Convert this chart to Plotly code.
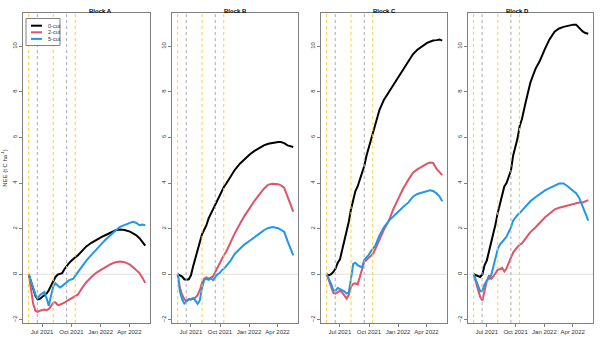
import plotly.graph_objects as go

# sampling dates shared by all series
dates = [
    "2021-05-20", "2021-05-27", "2021-06-03", "2021-06-10", "2021-06-17", "2021-06-24",
    "2021-07-01", "2021-07-08", "2021-07-15", "2021-07-22", "2021-07-29", "2021-08-05",
    "2021-08-12", "2021-08-19", "2021-08-26", "2021-09-02", "2021-09-09", "2021-09-16",
    "2021-09-23", "2021-09-30", "2021-10-07", "2021-10-14", "2021-10-21", "2021-11-03",
    "2021-11-17", "2021-12-03", "2021-12-17", "2022-01-03", "2022-01-17", "2022-02-03",
    "2022-02-17", "2022-03-03", "2022-03-17", "2022-04-03", "2022-04-12", "2022-04-22",
    "2022-05-03", "2022-05-12", "2022-05-21",
]

# management events (dashed vertical lines)
gold_dates = ["2021-05-20", "2021-08-05", "2021-10-13"]
grey_dates = ["2021-06-16", "2021-09-16"]

# cumulative NEE (t C ha-1), Block A
a_0cut = [0, -0.35, -0.7, -0.95, -1.1, -1.08, -1.0, -0.92, -0.85, -0.7, -0.5, -0.3, -0.12,
          -0.02, 0.0, 0.05, 0.22, 0.38, 0.48, 0.58, 0.68, 0.75, 0.82, 1.0, 1.22, 1.38, 1.5,
          1.63, 1.72, 1.85, 1.93, 1.96, 1.94, 1.87, 1.8, 1.72, 1.58, 1.43, 1.25]
a_2cut = [0, -0.7, -1.3, -1.6, -1.65, -1.6, -1.57, -1.55, -1.58, -1.52, -1.4, -1.25, -1.23,
          -1.35, -1.34, -1.3, -1.25, -1.18, -1.12, -1.08, -1.02, -0.97, -0.9, -0.62, -0.35,
          -0.12, 0.05, 0.2, 0.32, 0.45, 0.53, 0.56, 0.53, 0.42, 0.32, 0.2, 0.05, -0.15, -0.38]
a_5cut = [0, -0.3, -0.55, -0.9, -1.05, -0.92, -0.85, -0.78, -1.05, -1.38, -0.95, -0.55, -0.4,
          -0.5, -0.58, -0.52, -0.45, -0.35, -0.27, -0.22, -0.2, -0.05, 0.08, 0.35, 0.6, 0.85,
          1.08, 1.32, 1.52, 1.75, 1.92, 2.08, 2.17, 2.25, 2.3, 2.26, 2.15, 2.18, 2.15]

# Block B
b_0cut = [0, -0.05, -0.1, -0.22, -0.24, -0.22, -0.05, 0.35, 0.7, 0.95, 1.35, 1.75, 1.95,
          2.15, 2.45, 2.65, 2.85, 3.05, 3.25, 3.45, 3.7, 3.85, 3.98, 4.3, 4.58, 4.85, 5.05,
          5.25, 5.4, 5.55, 5.65, 5.72, 5.77, 5.8, 5.8, 5.75, 5.65, 5.6, 5.58]
b_2cut = [0, -0.6, -0.9, -1.1, -1.17, -1.1, -1.08, -1.1, -1.02, -0.92, -0.7, -0.38, -0.2,
          -0.14, -0.2, -0.15, -0.1, 0.1, 0.3, 0.45, 0.65, 0.85, 1.0, 1.4, 1.8, 2.2, 2.55,
          2.9, 3.2, 3.5, 3.75, 3.93, 3.97, 3.95, 3.9, 3.8, 3.4, 3.0, 2.75]
b_5cut = [0, -0.75, -1.1, -1.28, -1.2, -1.1, -1.12, -1.05, -1.15, -1.3, -1.15, -0.6, -0.25,
          -0.2, -0.25, -0.18, -0.26, -0.1, 0.0, 0.05, 0.18, 0.25, 0.35, 0.58, 0.9, 1.12, 1.3,
          1.47, 1.6, 1.78, 1.93, 2.03, 2.07, 2.02, 1.95, 1.87, 1.45, 1.15, 0.83]

# Block C
c_0cut = [0, -0.05, 0.0, 0.1, 0.25, 0.5, 0.65, 1.05, 1.45, 1.85, 2.3, 2.85, 3.3, 3.65,
          3.85, 4.15, 4.45, 4.75, 5.2, 5.55, 5.9, 6.25, 6.6, 7.2, 7.65, 8.0, 8.35, 8.7, 9.0,
          9.4, 9.65, 9.85, 10.0, 10.15, 10.2, 10.25, 10.27, 10.3, 10.25]
c_2cut = [0, -0.3, -0.6, -0.82, -0.85, -0.78, -0.72, -0.8, -0.95, -1.07, -0.9, -0.55, -0.42,
          -0.4, -0.45, -0.1, 0.3, 0.55, 0.62, 0.7, 0.78, 0.9, 1.1, 1.55, 1.95, 2.35, 2.85,
          3.35, 3.75, 4.15, 4.45, 4.6, 4.72, 4.85, 4.9, 4.88, 4.62, 4.48, 4.35]
c_5cut = [0, -0.2, -0.42, -0.7, -0.72, -0.6, -0.65, -0.7, -0.75, -0.85, -0.8, -0.2, 0.45,
          0.5, 0.4, 0.35, 0.3, 0.62, 0.72, 0.85, 1.0, 1.12, 1.25, 1.7, 2.05, 2.35, 2.55, 2.78,
          2.95, 3.15, 3.4, 3.52, 3.58, 3.65, 3.68, 3.65, 3.55, 3.42, 3.2]

# Block D
d_0cut = [0, -0.05, -0.1, -0.12, 0.0, 0.4, 0.6, 1.0, 1.35, 1.78, 2.2, 2.7, 3.1, 3.5, 3.85,
          4.0, 4.3, 4.55, 5.2, 5.55, 5.95, 6.5, 6.8, 7.6, 8.4, 9.0, 9.35, 9.9, 10.3, 10.65,
          10.78, 10.85, 10.9, 10.95, 10.95, 10.8, 10.65, 10.58, 10.55]
d_2cut = [0, -0.3, -0.65, -1.0, -1.15, -0.75, -0.3, -0.05, -0.2, -0.1, 0.05, 0.2, 0.22,
          0.28, 0.12, 0.25, 0.5, 0.75, 0.95, 1.08, 1.18, 1.3, 1.35, 1.6, 1.85, 2.05, 2.25,
          2.5, 2.65, 2.85, 2.92, 2.97, 3.05, 3.1, 3.12, 3.15, 3.15, 3.2, 3.25]
d_5cut = [0, -0.25, -0.5, -0.75, -0.72, -0.45, -0.28, -0.2, -0.05, 0.3, 0.75, 1.1, 1.3,
          1.42, 1.55, 1.65, 1.85, 2.05, 2.35, 2.5, 2.6, 2.68, 2.78, 3.0, 3.2, 3.38, 3.52,
          3.68, 3.78, 3.9, 3.98, 3.98, 3.85, 3.65, 3.55, 3.35, 2.95, 2.65, 2.35]

blocks = ["Block A", "Block B", "Block C", "Block D"]
treatments = ["0-cut", "2-cut", "5-cut"]
block_data = [
    [a_0cut, a_2cut, a_5cut],
    [b_0cut, b_2cut, b_5cut],
    [c_0cut, c_2cut, c_5cut],
    [d_0cut, d_2cut, d_5cut],
]
colors = ["black", "#DF536B", "#2297E6"]

W, H = 600, 337
# panel pixel extents (left, right)
panel_px = [(23, 150), (172, 298), (321, 447), (468, 593)]
y_dom = [1 - 323 / H, 1 - 13 / H]

FONT = "Liberation Sans, Arial, sans-serif"
FRAME = "#808080"

fig = go.Figure()
shapes = []
annotations = []

for i, (name, series) in enumerate(zip(blocks, block_data)):
    n = "" if i == 0 else str(i + 1)
    xa, ya = "x" + n, "y" + n

    for label, vals, col in zip(treatments, series, colors):
        fig.add_trace(
            go.Scatter(
                x=dates, y=vals, mode="lines", name=label,
                line=dict(color=col, width=2),
                xaxis=xa, yaxis=ya, showlegend=False,
            )
        )

    # zero reference line
    shapes.append(dict(type="line", xref=xa + " domain", yref=ya, x0=0, x1=1, y0=0, y1=0,
                       line=dict(color="#E0E0E0", width=1), layer="below"))
    # cut / event lines
    for d in grey_dates:
        shapes.append(dict(type="line", xref=xa, yref=ya + " domain", x0=d, x1=d, y0=0, y1=1,
                           line=dict(color="#ABABAB", width=1, dash="3px,3px")))
    for d in gold_dates:
        shapes.append(dict(type="line", xref=xa, yref=ya + " domain", x0=d, x1=d, y0=0, y1=1,
                           line=dict(color="#F7CF40", width=1, dash="3px,3px")))

    l, r = panel_px[i]
    fig.layout["xaxis" + n] = dict(
        domain=[l / W, r / W], anchor=ya, type="date",
        range=["2021-05-02", "2022-06-05"],
        tickvals=["2021-07-01", "2021-10-01", "2022-01-01", "2022-04-01"],
        ticktext=["Jul 2021", "Oct 2021", "Jan 2022", "Apr 2022"],
        showgrid=False, zeroline=False, showline=True, mirror=True,
        linecolor=FRAME, linewidth=1, ticks="outside", ticklen=3, tickcolor=FRAME,
        tickfont=dict(size=6, color="#333333", family=FONT),
    )
    fig.layout["yaxis" + n] = dict(
        domain=y_dom, anchor=xa, range=[-2.14, 11.46],
        tickvals=[-2, 0, 2, 4, 6, 8, 10], tickangle=-90,
        showgrid=False, zeroline=False, showline=True, mirror=True,
        linecolor=FRAME, linewidth=1, ticks="outside", ticklen=3, tickcolor=FRAME,
        tickfont=dict(size=6, color="#333333", family=FONT),
    )
    annotations.append(dict(text="<b>" + name + "</b>", xref="paper", yref="paper",
                            x=(l + r) / 2 / W, y=1 - 6 / H, showarrow=False,
                            font=dict(size=6, color="black", family=FONT)))

fig.layout.yaxis.title = dict(text="NEE (t C ha<sup>-1</sup>)", standoff=3,
                              font=dict(size=6, color="#333333", family=FONT))

# legend box in Block A
shapes.append(dict(type="rect", xref="paper", yref="paper",
                   x0=26 / W, x1=60 / W, y0=1 - 45.5 / H, y1=1 - 18.5 / H,
                   line=dict(color=FRAME, width=1), fillcolor="white"))
for k, (label, col) in enumerate(zip(treatments, colors)):
    yy = 1 - (25.7 + 6.6 * k) / H
    shapes.append(dict(type="line", xref="paper", yref="paper",
                       x0=31 / W, x1=42 / W, y0=yy, y1=yy, line=dict(color=col, width=2)))
    annotations.append(dict(text=label, xref="paper", yref="paper", x=45.5 / W, y=yy,
                            xanchor="left", yanchor="middle", showarrow=False,
                            font=dict(size=5.5, color="#333333", family=FONT)))

fig.update_layout(
    width=W, height=H,
    margin=dict(l=0, r=0, t=0, b=0),
    paper_bgcolor="white", plot_bgcolor="white",
    shapes=shapes, annotations=annotations,
    showlegend=False,
)

# drop the default page margin so the figure sits at the window origin
fig.write_html("out.html",
               config={"displayModeBar": False},
               post_script="document.body.style.margin='0';document.body.style.overflow='hidden';")
